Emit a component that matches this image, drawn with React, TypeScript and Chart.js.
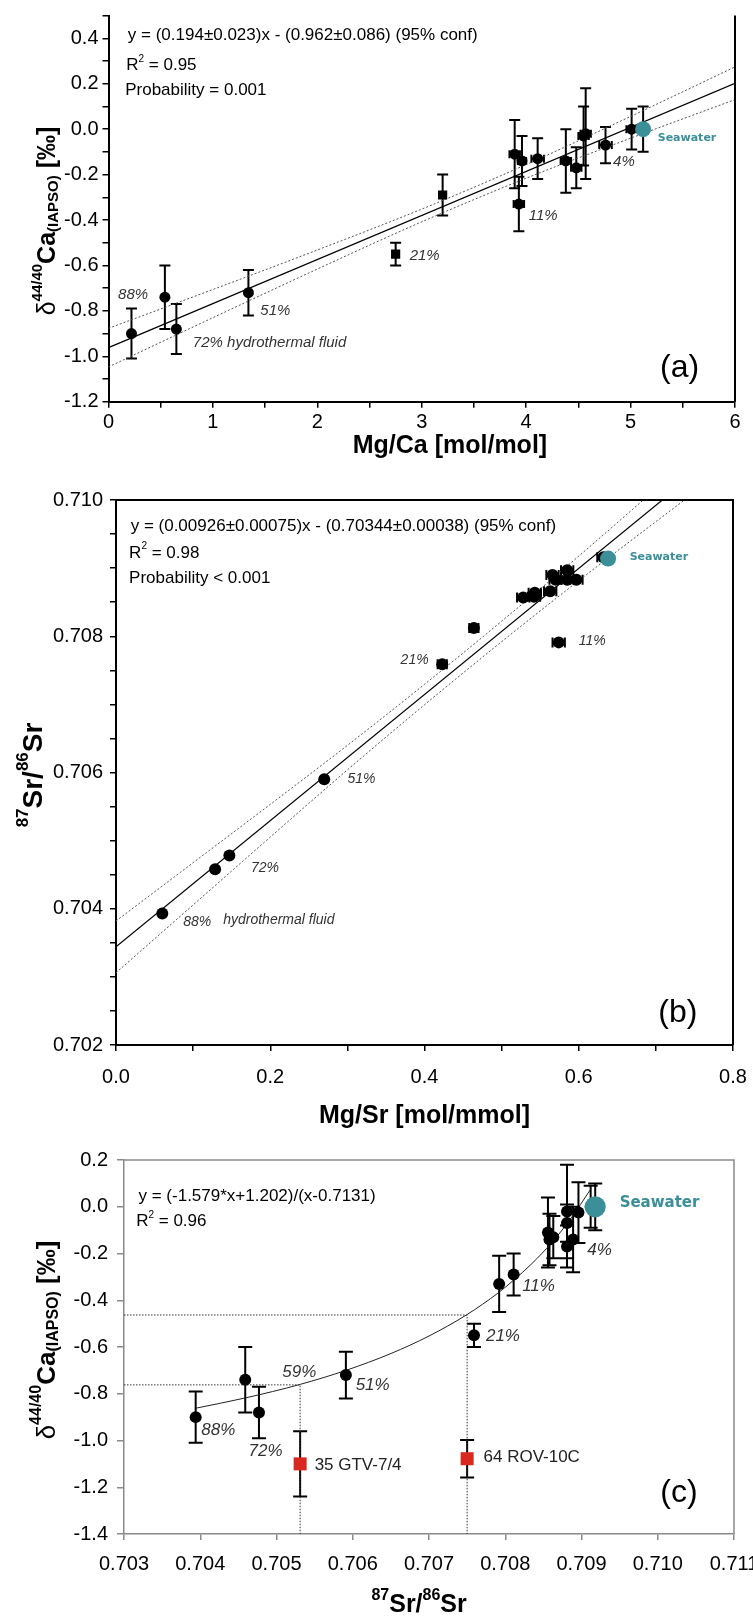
import React, { useEffect, useRef } from 'react';
import { Chart, registerables } from 'chart.js';

Chart.register(...registerables);

const FONT = '"Liberation Sans", Arial, Helvetica, sans-serif';
const SEA_FONT = '"DejaVu Sans", Verdana, sans-serif';
const TEAL = '#3b8f99';
const RED = '#d9281f';
const GREY_LABEL = '#333333';

// ---------------- Panel (a): d44/40Ca vs Mg/Ca ----------------
const aXTicks = [0, 0.5, 1, 1.5, 2, 2.5, 3, 3.5, 4, 4.5, 5, 5.5, 6];
const aXTickLabels = ['0', '', '1', '', '2', '', '3', '', '4', '', '5', '', '6'];
const aYTicks = [-1.2, -1.1, -1.0, -0.9, -0.8, -0.7, -0.6, -0.5, -0.4, -0.3, -0.2, -0.1, 0, 0.1, 0.2, 0.3, 0.4, 0.5];
const aYTickLabels = ['-1.2', '', '-1.0', '', '-0.8', '', '-0.6', '', '-0.4', '', '-0.2', '', '0.0', '', '0.2', '', '0.4', ''];

const aMgCa = [0.22, 0.54, 0.65, 1.34, 3.89, 3.96, 3.93, 4.11, 4.38, 4.48, 4.55, 4.57, 4.76, 5.01];
const aCa = [-0.90, -0.74, -0.88, -0.72, -0.11, -0.14, -0.33, -0.13, -0.14, -0.17, -0.03, -0.02, -0.07, 0.0];
const aCaErr = [0.11, 0.14, 0.11, 0.10, 0.15, 0.11, 0.12, 0.09, 0.14, 0.09, 0.13, 0.20, 0.08, 0.09];
const aMgCaErr = [0, 0, 0, 0, 0.05, 0.04, 0.05, 0.06, 0.05, 0.05, 0.05, 0.05, 0.06, 0.05];
const aSqMgCa = [2.75, 3.2];
const aSqCa = [-0.55, -0.29];
const aSqCaErr = [0.05, 0.09];
const aSqMgCaErr = [0.02, 0.03];
const aSeaMgCa = [5.12];
const aSeaCa = [0.0];
const aSeaErr = [0.1];
const aFitX = [0, 6];
const aFitY = [-0.962, 0.202];
const aBandX = [0, 1, 2, 3, 4, 5, 6];
const aBandUpper = [-0.877, -0.706, -0.532, -0.352, -0.156, 0.056, 0.274];
const aBandLower = [-1.047, -0.83, -0.616, -0.408, -0.216, -0.04, 0.13];

// ---------------- Panel (b): 87Sr/86Sr vs Mg/Sr ----------------
const bXTicks = [0, 0.1, 0.2, 0.3, 0.4, 0.5, 0.6, 0.7, 0.8];
const bXTickLabels = ['0.0', '', '0.2', '', '0.4', '', '0.6', '', '0.8'];
const bYTicks = [0.702, 0.7025, 0.703, 0.7035, 0.704, 0.7045, 0.705, 0.7055, 0.706, 0.7065, 0.707, 0.7075, 0.708, 0.7085, 0.709, 0.7095, 0.71];
const bYTickLabels = ['0.702', '', '', '', '0.704', '', '', '', '0.706', '', '', '', '0.708', '', '', '', '0.710'];

const bMgSr = [0.06, 0.1285, 0.147, 0.27, 0.423, 0.464, 0.574, 0.528, 0.542, 0.543, 0.563, 0.566, 0.57, 0.585, 0.585, 0.597, 0.632];
const bSr = [0.70393, 0.70458, 0.70478, 0.7059, 0.70759, 0.70812, 0.70791, 0.70857, 0.70858, 0.70864, 0.70866, 0.7089, 0.70883, 0.70883, 0.70897, 0.70883, 0.70916];
const bMgSrErr = [0, 0, 0, 0, 0.006, 0.006, 0.008, 0.008, 0.008, 0.008, 0.008, 0.008, 0.008, 0.008, 0.008, 0.008, 0.008];
const bSeaMgSr = [0.638];
const bSeaSr = [0.70914];
const bFitX = [0, 0.8];
const bFitY = [0.70344, 0.710848];
const bBandX = [0, 0.1, 0.2, 0.3, 0.4, 0.5, 0.6, 0.7, 0.8];
const bBandUpper = [0.70382, 0.704676, 0.705532, 0.706398, 0.707294, 0.70822, 0.709176, 0.710162, 0.711158];
const bBandLower = [0.70306, 0.704056, 0.705052, 0.706038, 0.706994, 0.70792, 0.708816, 0.709682, 0.710538];

// ---------------- Panel (c): d44/40Ca vs 87Sr/86Sr ----------------
const cXTicks = [0.703, 0.704, 0.705, 0.706, 0.707, 0.708, 0.709, 0.71, 0.711];
const cXTickLabels = ['0.703', '0.704', '0.705', '0.706', '0.707', '0.708', '0.709', '0.710', '0.711'];
const cYTicks = [-1.4, -1.2, -1.0, -0.8, -0.6, -0.4, -0.2, 0, 0.2];
const cYTickLabels = ['-1.4', '-1.2', '-1.0', '-0.8', '-0.6', '-0.4', '-0.2', '0.0', '0.2'];

const cSr = [0.70394, 0.70459, 0.70477, 0.70591, 0.70759, 0.70792, 0.70811, 0.70856, 0.70858, 0.70863, 0.70881, 0.70881, 0.70881, 0.70889, 0.70896, 0.70912];
const cCa = [-0.9, -0.74, -0.88, -0.72, -0.55, -0.33, -0.29, -0.11, -0.14, -0.13, -0.02, -0.07, -0.17, -0.14, -0.025, 0.0];
const cCaErr = [0.11, 0.14, 0.11, 0.1, 0.05, 0.12, 0.09, 0.15, 0.11, 0.09, 0.2, 0.08, 0.09, 0.14, 0.13, 0.09];
const cSeaSr = [0.70918];
const cSeaCa = [0.0];
const cSeaErr = [0.1];
const cVentSr = [0.70531, 0.7075];
const cVentCa = [-1.1, -1.078];
const cVentErr = [0.14, 0.08];
const cCurveX = [0.70394, 0.70459, 0.70531, 0.70591, 0.7065, 0.707, 0.70749, 0.70791, 0.70811, 0.70835, 0.7086, 0.70885, 0.70912];
const cCurveY = [-0.862, -0.818, -0.76, -0.7, -0.628, -0.553, -0.463, -0.368, -0.314, -0.243, -0.157, -0.055, 0.075];
const cGuide1X = [0.703, 0.7075, 0.7075];
const cGuide1Y = [-0.463, -0.463, -1.4];
const cGuide2X = [0.703, 0.70531, 0.70531];
const cGuide2Y = [-0.762, -0.762, -1.4];

// ---------------- helpers ----------------
type Run = { t: string; font: string; dy?: number; color?: string };

const zip = (xs: number[], ys: number[]) => xs.map((x, i) => ({ x, y: ys[i] }));

function runsWidth(ctx: CanvasRenderingContext2D, runs: Run[]) {
  let w = 0;
  for (const r of runs) {
    ctx.font = r.font;
    w += ctx.measureText(r.t).width;
  }
  return w;
}

function drawRuns(ctx: CanvasRenderingContext2D, x: number, y: number, runs: Run[], align: 'left' | 'center', color: string) {
  let cx = align === 'center' ? x - runsWidth(ctx, runs) / 2 : x;
  ctx.textAlign = 'left';
  ctx.textBaseline = 'middle';
  for (const r of runs) {
    ctx.font = r.font;
    ctx.fillStyle = r.color || color;
    ctx.fillText(r.t, cx, y + (r.dy || 0));
    cx += ctx.measureText(r.t).width;
  }
}

interface ErrBar { x: number; y: number; ex: number; ey: number }
interface Label { x: number; y: number; runs: Run[]; align?: 'left' | 'center'; color?: string }
interface Deco {
  errBars: ErrBar[];
  errColor: string;
  errWidth: number;
  capHalf: number;
  capHalfX: number;
  frameTop: boolean;
  frameRight: boolean;
  frameColor: string;
  frameWidth: number;
  labels: Label[];
  xTitle: { x: number; yPx: number; runs: Run[] };
  yTitle: { xPx: number; yPx: number; runs: Run[] };
}

function decoPlugin(id: string, d: Deco) {
  return {
    id,
    beforeDatasetsDraw(chart: any) {
      const ctx: CanvasRenderingContext2D = chart.ctx;
      const xs = chart.scales.x;
      const ys = chart.scales.y;
      ctx.save();
      ctx.strokeStyle = d.errColor;
      ctx.lineWidth = d.errWidth;
      for (const e of d.errBars) {
        const px = xs.getPixelForValue(e.x);
        const py = ys.getPixelForValue(e.y);
        ctx.beginPath();
        if (e.ey > 0) {
          const t = ys.getPixelForValue(e.y + e.ey);
          const b = ys.getPixelForValue(e.y - e.ey);
          ctx.moveTo(px, t);
          ctx.lineTo(px, b);
          ctx.moveTo(px - d.capHalf, t);
          ctx.lineTo(px + d.capHalf, t);
          ctx.moveTo(px - d.capHalf, b);
          ctx.lineTo(px + d.capHalf, b);
        }
        if (e.ex > 0) {
          const l = xs.getPixelForValue(e.x - e.ex);
          const r = xs.getPixelForValue(e.x + e.ex);
          ctx.moveTo(l, py);
          ctx.lineTo(r, py);
          ctx.moveTo(l, py - d.capHalfX);
          ctx.lineTo(l, py + d.capHalfX);
          ctx.moveTo(r, py - d.capHalfX);
          ctx.lineTo(r, py + d.capHalfX);
        }
        ctx.stroke();
      }
      ctx.restore();
    },
    afterDraw(chart: any) {
      const ctx: CanvasRenderingContext2D = chart.ctx;
      const xs = chart.scales.x;
      const ys = chart.scales.y;
      const a = chart.chartArea;
      ctx.save();
      ctx.strokeStyle = d.frameColor;
      ctx.lineWidth = d.frameWidth;
      ctx.beginPath();
      if (d.frameTop) {
        ctx.moveTo(a.left, a.top);
        ctx.lineTo(a.right, a.top);
      }
      if (d.frameRight) {
        ctx.moveTo(a.right, a.top - (d.frameTop ? d.frameWidth / 2 : 0));
        ctx.lineTo(a.right, a.bottom);
      }
      ctx.stroke();

      for (const l of d.labels) {
        drawRuns(ctx, xs.getPixelForValue(l.x), ys.getPixelForValue(l.y), l.runs, l.align || 'left', l.color || '#000');
      }
      drawRuns(ctx, xs.getPixelForValue(d.xTitle.x), d.xTitle.yPx, d.xTitle.runs, 'center', '#000');
      ctx.translate(d.yTitle.xPx, d.yTitle.yPx);
      ctx.rotate(-Math.PI / 2);
      drawRuns(ctx, 0, 0, d.yTitle.runs, 'center', '#000');
      ctx.restore();
    },
  };
}

interface AxisSpec {
  min: number;
  max: number;
  ticks: number[];
  labels: string[];
  fit: number;
  horizontal: boolean;
  padding: number;
  tickLen: number;
  color: string;
  borderWidth: number;
  tickWidth: number;
  fontSize: number;
}

function axis(s: AxisSpec) {
  return {
    type: 'linear',
    min: s.min,
    max: s.max,
    afterBuildTicks: (ax: any) => {
      ax.ticks = s.ticks.map((v) => ({ value: v }));
    },
    afterFit: (ax: any) => {
      if (s.horizontal) ax.height = s.fit;
      else ax.width = s.fit;
      ax.paddingLeft = 0;
      ax.paddingRight = 0;
      ax.paddingTop = 0;
      ax.paddingBottom = 0;
    },
    ticks: {
      autoSkip: false,
      maxRotation: 0,
      minRotation: 0,
      padding: s.padding,
      color: '#000',
      font: { family: FONT, size: s.fontSize },
      callback: (_v: any, i: number) => s.labels[i] ?? '',
    },
    grid: {
      drawOnChartArea: false,
      drawTicks: true,
      tickLength: s.tickLen,
      color: s.color,
      lineWidth: s.tickWidth,
    },
    border: { display: true, color: s.color, width: s.borderWidth },
  };
}

const lineDs = (data: any[], color: string, width: number, dash: number[] = [], extra: any = {}) => ({
  data,
  showLine: true,
  borderColor: color,
  borderWidth: width,
  borderDash: dash,
  pointRadius: 0,
  pointHoverRadius: 0,
  fill: false,
  order: 10,
  ...extra,
});

const pointDs = (data: any[], color: string, radius: number, style: string = 'circle', order = 1) => ({
  data,
  showLine: false,
  pointStyle: style,
  pointRadius: radius,
  pointHoverRadius: radius,
  backgroundColor: color,
  borderColor: color,
  pointBackgroundColor: color,
  pointBorderColor: color,
  pointBorderWidth: 0,
  order,
});

const baseOptions = (padding: any, scales: any) => ({
  animation: false,
  responsive: false,
  maintainAspectRatio: false,
  events: [],
  layout: { padding },
  plugins: { legend: { display: false }, tooltip: { enabled: false } },
  scales,
});

const it = (size: number) => `italic ${size}px ${FONT}`;
const rg = (size: number) => `${size}px ${FONT}`;
const bd = (size: number) => `bold ${size}px ${FONT}`;
const seaFont = (size: number) => `bold ${size}px ${SEA_FONT}`;

function r2Runs(val: string, size: number): Run[] {
  return [
    { t: 'R', font: rg(size) },
    { t: '2', font: rg(Math.round(size * 0.6)), dy: -size * 0.4 },
    { t: ` = ${val}`, font: rg(size) },
  ];
}

function caTitle(big: number, small: number): Run[] {
  return [
    { t: 'δ', font: rg(big) },
    { t: '44/40', font: bd(small), dy: -big * 0.42 },
    { t: 'Ca', font: bd(big) },
    { t: '(IAPSO)', font: bd(small), dy: big * 0.22 },
    { t: ' [‰]', font: bd(big) },
  ];
}

function srTitle(big: number, small: number): Run[] {
  return [
    { t: '87', font: bd(small), dy: -big * 0.38 },
    { t: 'Sr/', font: bd(big) },
    { t: '86', font: bd(small), dy: -big * 0.38 },
    { t: 'Sr', font: bd(big) },
  ];
}

export default function App() {
  const refA = useRef<HTMLCanvasElement>(null);
  const refB = useRef<HTMLCanvasElement>(null);
  const refC = useRef<HTMLCanvasElement>(null);

  useEffect(() => {
    // ---------- (a) ----------
    const decoA: Deco = {
      errBars: [
        ...aMgCa.map((x, i) => ({ x, y: aCa[i], ex: aMgCaErr[i], ey: aCaErr[i] })),
        ...aSqMgCa.map((x, i) => ({ x, y: aSqCa[i], ex: aSqMgCaErr[i], ey: aSqCaErr[i] })),
        ...aSeaMgCa.map((x, i) => ({ x, y: aSeaCa[i], ex: 0, ey: aSeaErr[i] })),
      ],
      errColor: '#000',
      errWidth: 2,
      capHalf: 5.5,
      capHalfX: 4,
      frameTop: false,
      frameRight: true,
      frameColor: '#000',
      frameWidth: 2,
      labels: [
        { x: 0.185, y: 0.413, runs: [{ t: 'y = (0.194±0.023)x - (0.962±0.086) (95% conf)', font: rg(17) }] },
        { x: 0.17, y: 0.28, runs: r2Runs('0.95', 17) },
        { x: 0.16, y: 0.172, runs: [{ t: 'Probability = 0.001', font: rg(17) }] },
        { x: 0.092, y: -0.73, runs: [{ t: '88%', font: it(15) }], color: GREY_LABEL },
        { x: 0.808, y: -0.94, runs: [{ t: '72% hydrothermal fluid', font: it(15) }], color: GREY_LABEL },
        { x: 1.454, y: -0.8, runs: [{ t: '51%', font: it(15) }], color: GREY_LABEL },
        { x: 2.884, y: -0.558, runs: [{ t: '21%', font: it(15) }], color: GREY_LABEL },
        { x: 4.024, y: -0.38, runs: [{ t: '11%', font: it(15) }], color: GREY_LABEL },
        { x: 4.832, y: -0.145, runs: [{ t: '4%', font: it(15) }], color: GREY_LABEL },
        { x: 5.26, y: -0.04, runs: [{ t: 'Seawater', font: seaFont(11) }], color: TEAL },
        { x: 5.47, y: -1.054, runs: [{ t: '(a)', font: rg(32) }], align: 'center' },
      ],
      xTitle: { x: 3.27, yPx: 446, runs: [{ t: 'Mg/Ca [mol/mol]', font: bd(25) }] },
      yTitle: { xPx: 48, yPx: 221, runs: caTitle(25, 15) },
    };

    const chartA = new Chart(refA.current as HTMLCanvasElement, {
      type: 'scatter',
      data: {
        datasets: [
          lineDs(zip(aFitX, aFitY), '#000', 1.2),
          lineDs(zip(aBandX, aBandUpper), '#555', 1, [2, 2], { cubicInterpolationMode: 'monotone' }),
          lineDs(zip(aBandX, aBandLower), '#555', 1, [2, 2], { cubicInterpolationMode: 'monotone' }),
          pointDs(zip(aMgCa, aCa), '#000', 5.5),
          pointDs(zip(aSqMgCa, aSqCa), '#000', 6.5, 'rect'),
          pointDs(zip(aSeaMgCa, aSeaCa), TEAL, 8, 'circle', 0),
        ] as any,
      },
      options: baseOptions({ top: 15.6, right: 18, left: 0, bottom: 0 }, {
        x: axis({ min: 0, max: 6, ticks: aXTicks, labels: aXTickLabels, fit: 475 - 401.7, horizontal: true, padding: 3, tickLen: 6, color: '#000', borderWidth: 2, tickWidth: 1.5, fontSize: 20 }),
        y: axis({ min: -1.2, max: 0.5, ticks: aYTicks, labels: aYTickLabels, fit: 108.5, horizontal: false, padding: 4, tickLen: 6, color: '#000', borderWidth: 2, tickWidth: 1.5, fontSize: 20 }),
      }) as any,
      plugins: [decoPlugin('decoA', decoA)],
    });

    // ---------- (b) ----------
    const decoB: Deco = {
      errBars: bMgSr.map((x, i) => ({ x, y: bSr[i], ex: bMgSrErr[i], ey: 0 })),
      errColor: '#000',
      errWidth: 2,
      capHalf: 4,
      capHalfX: 5,
      frameTop: true,
      frameRight: true,
      frameColor: '#000',
      frameWidth: 2,
      labels: [
        { x: 0.019, y: 0.70962, runs: [{ t: 'y = (0.00926±0.00075)x - (0.70344±0.00038) (95% conf)', font: rg(17) }] },
        { x: 0.017, y: 0.70922, runs: r2Runs('0.98', 17) },
        { x: 0.017, y: 0.70885, runs: [{ t: 'Probability < 0.001', font: rg(17) }] },
        { x: 0.666, y: 0.70916, runs: [{ t: 'Seawater', font: seaFont(11) }], color: TEAL },
        { x: 0.6, y: 0.70793, runs: [{ t: '11%', font: it(14) }], color: GREY_LABEL },
        { x: 0.369, y: 0.70765, runs: [{ t: '21%', font: it(14) }], color: GREY_LABEL },
        { x: 0.3, y: 0.7059, runs: [{ t: '51%', font: it(14) }], color: GREY_LABEL },
        { x: 0.175, y: 0.7046, runs: [{ t: '72%', font: it(14) }], color: GREY_LABEL },
        { x: 0.0871, y: 0.7038, runs: [{ t: '88%', font: it(14) }], color: GREY_LABEL },
        { x: 0.139, y: 0.70383, runs: [{ t: 'hydrothermal fluid', font: it(14) }], color: GREY_LABEL },
        { x: 0.7285, y: 0.70247, runs: [{ t: '(b)', font: rg(32) }], align: 'center' },
      ],
      xTitle: { x: 0.4, yPx: 641, runs: [{ t: 'Mg/Sr [mol/mmol]', font: bd(25) }] },
      yTitle: { xPx: 34, yPx: 300, runs: srTitle(28, 17) },
    };

    const chartB = new Chart(refB.current as HTMLCanvasElement, {
      type: 'scatter',
      data: {
        datasets: [
          lineDs(zip(bFitX, bFitY), '#000', 1.2),
          lineDs(zip(bBandX, bBandUpper), '#555', 1, [2, 2], { cubicInterpolationMode: 'monotone' }),
          lineDs(zip(bBandX, bBandLower), '#555', 1, [2, 2], { cubicInterpolationMode: 'monotone' }),
          pointDs(zip(bMgSr, bSr), '#000', 6),
          pointDs(zip(bSeaMgSr, bSeaSr), TEAL, 8, 'circle', 0),
        ] as any,
      },
      options: baseOptions({ top: 25, right: 20, left: 0, bottom: 0 }, {
        x: axis({ min: 0, max: 0.8, ticks: bXTicks, labels: bXTickLabels, fit: 660 - 570, horizontal: true, padding: 14, tickLen: 6, color: '#000', borderWidth: 2, tickWidth: 1.5, fontSize: 20 }),
        y: axis({ min: 0.702, max: 0.71, ticks: bYTicks, labels: bYTickLabels, fit: 116, horizontal: false, padding: 7, tickLen: 6, color: '#000', borderWidth: 2, tickWidth: 1.5, fontSize: 20 }),
      }) as any,
      plugins: [decoPlugin('decoB', decoB)],
    });

    // ---------- (c) ----------
    const decoC: Deco = {
      errBars: [
        ...cSr.map((x, i) => ({ x, y: cCa[i], ex: 0, ey: cCaErr[i] })),
        ...cSeaSr.map((x, i) => ({ x, y: cSeaCa[i], ex: 0, ey: cSeaErr[i] })),
        ...cVentSr.map((x, i) => ({ x, y: cVentCa[i], ex: 0, ey: cVentErr[i] })),
      ],
      errColor: '#000',
      errWidth: 2,
      capHalf: 7,
      capHalfX: 4,
      frameTop: true,
      frameRight: true,
      frameColor: '#8a8a8a',
      frameWidth: 1.5,
      labels: [
        { x: 0.70319, y: 0.043, runs: [{ t: 'y = (-1.579*x+1.202)/(x-0.7131)', font: rg(17) }] },
        { x: 0.70316, y: -0.064, runs: r2Runs('0.96', 17) },
        { x: 0.7095, y: 0.014, runs: [{ t: 'Seawater', font: seaFont(15) }], color: TEAL },
        { x: 0.709076, y: -0.188, runs: [{ t: '4%', font: it(17) }], color: GREY_LABEL },
        { x: 0.708222, y: -0.339, runs: [{ t: '11%', font: it(17) }], color: GREY_LABEL },
        { x: 0.707747, y: -0.556, runs: [{ t: '21%', font: it(17) }], color: GREY_LABEL },
        { x: 0.706038, y: -0.763, runs: [{ t: '51%', font: it(17) }], color: GREY_LABEL },
        { x: 0.704013, y: -0.955, runs: [{ t: '88%', font: it(17) }], color: GREY_LABEL },
        { x: 0.704633, y: -1.048, runs: [{ t: '72%', font: it(17) }], color: GREY_LABEL },
        { x: 0.705076, y: -0.706, runs: [{ t: '59%', font: it(17) }], color: GREY_LABEL },
        { x: 0.7055, y: -1.105, runs: [{ t: '35 GTV-7/4', font: rg(17) }], color: '#222' },
        { x: 0.707715, y: -1.072, runs: [{ t: '64 ROV-10C', font: rg(17) }], color: '#222' },
        { x: 0.710278, y: -1.226, runs: [{ t: '(c)', font: rg(32) }], align: 'center' },
      ],
      xTitle: { x: 0.70687, yPx: 470, runs: srTitle(25, 16) },
      yTitle: { xPx: 48, yPx: 205, runs: caTitle(26, 16) },
    };

    const chartC = new Chart(refC.current as HTMLCanvasElement, {
      type: 'scatter',
      data: {
        datasets: [
          lineDs(zip(cGuide1X, cGuide1Y), '#333', 1, [1.5, 1.5]),
          lineDs(zip(cGuide2X, cGuide2Y), '#333', 1, [1.5, 1.5]),
          lineDs(zip(cCurveX, cCurveY), '#222', 1, [], { cubicInterpolationMode: 'monotone' }),
          pointDs(zip(cSr, cCa), '#000', 6),
          pointDs(zip(cVentSr, cVentCa), RED, 9.2, 'rect'),
          pointDs(zip(cSeaSr, cSeaCa), TEAL, 10.5, 'circle', 0),
        ] as any,
      },
      options: baseOptions({ top: 25, right: 19, left: 0, bottom: 0 }, {
        x: axis({ min: 0.703, max: 0.711, ticks: cXTicks, labels: cXTickLabels, fit: 484 - 399, horizontal: true, padding: 12, tickLen: 6, color: '#8a8a8a', borderWidth: 1.5, tickWidth: 1.5, fontSize: 20 }),
        y: axis({ min: -1.4, max: 0.2, ticks: cYTicks, labels: cYTickLabels, fit: 124, horizontal: false, padding: 9, tickLen: 7, color: '#8a8a8a', borderWidth: 1.5, tickWidth: 1.5, fontSize: 20 }),
      }) as any,
      plugins: [decoPlugin('decoC', decoC)],
    });

    return () => {
      chartA.destroy();
      chartB.destroy();
      chartC.destroy();
    };
  }, []);

  return (
    <div style={{ position: 'absolute', left: 0, top: 0, width: 753, height: 1619, background: '#fff', overflow: 'hidden' }}>
      <canvas ref={refA} width={753} height={475} style={{ position: 'absolute', left: 0, top: 0, width: 753, height: 475 }} />
      <canvas ref={refB} width={753} height={660} style={{ position: 'absolute', left: 0, top: 475, width: 753, height: 660 }} />
      <canvas ref={refC} width={753} height={484} style={{ position: 'absolute', left: 0, top: 1135, width: 753, height: 484 }} />
    </div>
  );
}
